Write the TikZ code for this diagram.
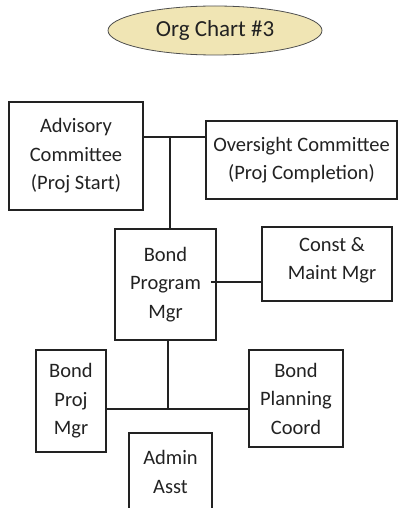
\documentclass[tikz,border=0pt]{standalone}
\usepackage{fontspec}
\setmainfont{Carlito}
\usetikzlibrary{shapes.geometric}
\definecolor{titlefill}{RGB}{240,229,180}
\definecolor{ink}{RGB}{34,34,34}
\begin{document}
\begin{tikzpicture}[x=1pt,y=-1pt,
  box/.style={draw=ink,line width=1.2pt,rectangle,align=center,inner sep=0pt,
    font=\fontsize{20.5}{28.5}\selectfont,text=ink},
  conn/.style={draw=ink,line width=1.2pt}]
\useasboundingbox (0,0) rectangle (406,508);
\node[ellipse,draw=ink!80,line width=0.8pt,fill=titlefill,minimum width=214pt,minimum height=49pt,
  font=\fontsize{23}{27}\selectfont,text=ink] (title) at (215,30.5) {Org Chart \#3};
\node[box,minimum width=134pt,minimum height=108pt] (adv) at (76,156) {Advisory\\Committee\\(Proj Start)};
\node[box,minimum width=191pt,minimum height=78pt] (over) at (301.5,160) {Oversight Committee\\(Proj Completion)};
\node[box,minimum width=101pt,minimum height=111pt] (prog) at (165.5,284.5) {Bond\\Program\\Mgr};
\node[box,minimum width=130pt,minimum height=74pt] (cons) at (327,264) {\hspace*{10pt}Const \&\\\hspace*{10pt}Maint Mgr\\[-17pt]};
\node[box,minimum width=70pt,minimum height=102pt] (proj) at (71,401) {Bond\\Proj\\Mgr};
\node[box,minimum width=94pt,minimum height=97pt] (plan) at (296,398.5) {Bond\\Planning\\Coord};
\node[box,minimum width=83pt,minimum height=78pt] (admin) at (170.5,472) {Admin\\Asst};
\coordinate (j1) at (170,137);
\coordinate (j2) at (211,282);
\coordinate (j3) at (168,409);
\draw[conn] (j1 -| adv.east) -- (j1 -| over.west);
\draw[conn] (j1) -- (j1 |- prog.north);
\draw[conn] (j2) -- (j2 -| cons.west);
\draw[conn] (j3 |- prog.south) -- (j3);
\draw[conn] (j3 -| proj.east) -- (j3 -| plan.west);
\end{tikzpicture}
\end{document}
